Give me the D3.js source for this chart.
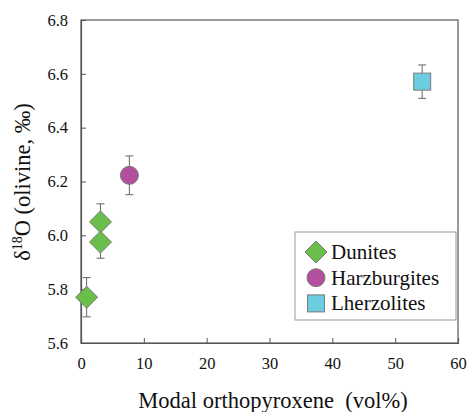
<!DOCTYPE html>
<html>
<head>
<meta charset="utf-8">
<script src="https://cdn.jsdelivr.net/npm/d3@7"></script>
<style>
  html, body { margin: 0; padding: 0; background: #fff; }
  svg { display: block; }
  svg text { fill: #111; }
</style>
</head>
<body>
<svg id="chart" width="468" height="412"></svg>
<script>
// Rock types and their marker styles
const groups = ["Dunites", "Harzburgites", "Lherzolites"];
const groupFill = ["#6abf4b", "#b44f9f", "#6dcde0"];
const groupShape = ["diamond", "circle", "square"];

// Sample measurements: modal opx (vol%), δ18O olivine (‰), 1σ error
const sampleGroup = ["Dunites", "Dunites", "Dunites", "Harzburgites", "Lherzolites"];
const opx = [0.9, 3.1, 3.1, 7.7, 54.3];
const d18O = [5.77, 6.05, 5.975, 6.223, 6.571];
const err = [0.073, 0.067, 0.06, 0.072, 0.062];

const xTicks = [0, 10, 20, 30, 40, 50, 60];
const yTicks = [5.6, 5.8, 6.0, 6.2, 6.4, 6.6, 6.8];

const serif = "Liberation Serif";
const svg = d3.select("#chart");
const plotL = 81, plotR = 458, plotT = 20, plotB = 343;

const x = d3.scaleLinear().domain([0, 60]).range([plotL, plotR]);
const y = d3.scaleLinear().domain([5.6, 6.8]).range([plotB, plotT]);

// Frame
svg.append("rect")
  .attr("x", plotL).attr("y", plotT)
  .attr("width", plotR - plotL).attr("height", plotB - plotT)
  .attr("fill", "none").attr("stroke", "#555").attr("stroke-width", 1.2);

// Axes with inward ticks
const xAxis = svg.append("g").attr("transform", `translate(0,${plotB})`)
  .call(d3.axisBottom(x).tickValues(xTicks).tickSize(-5).tickPadding(14).tickFormat(d3.format("d")));
const yAxis = svg.append("g").attr("transform", `translate(${plotL},0)`)
  .call(d3.axisLeft(y).tickValues(yTicks).tickSize(-5).tickPadding(13).tickFormat(d3.format(".1f")));
[xAxis, yAxis].forEach(g => {
  g.attr("font-family", null).attr("font-size", null);
  g.select(".domain").attr("stroke", "#555").attr("stroke-width", 1.2);
  g.selectAll(".tick line").attr("stroke", "#555");
  g.selectAll(".tick text").attr("fill", "#111")
    .style("font-family", serif).style("font-size", "16.5px");
});

// Axis titles
svg.append("text")
  .attr("x", 273).attr("y", 408)
  .attr("text-anchor", "middle")
  .style("font-family", serif).style("font-size", "22.5px")
  .attr("xml:space", "preserve")
  .text("Modal orthopyroxene  (vol%)");

const yt = svg.append("text")
  .attr("transform", "translate(30,182) rotate(-90)")
  .attr("text-anchor", "middle")
  .style("font-family", serif).style("font-size", "22.5px");
yt.append("tspan").text("δ");
yt.append("tspan").attr("dy", -8).style("font-size", "14px").text("18");
yt.append("tspan").attr("dy", 8).text("O (olivine, ‰)");

// Marker drawing helper
function marker(g, shape, fill) {
  if (shape === "diamond") {
    g.append("path").attr("d", "M0,-11L11,0L0,11L-11,0Z");
  } else if (shape === "circle") {
    g.append("circle").attr("r", 9);
  } else {
    g.append("rect").attr("x", -8.5).attr("y", -8.5).attr("width", 17).attr("height", 17);
  }
  g.selectAll("path,circle,rect").attr("fill", fill).attr("stroke", "#7a7a7a").attr("stroke-width", 1);
}

// Error bars
const eb = svg.append("g").attr("stroke", "#666").attr("stroke-width", 1);
opx.forEach((v, i) => {
  const cx = x(v);
  eb.append("line").attr("x1", cx).attr("x2", cx).attr("y1", y(d18O[i] + err[i])).attr("y2", y(d18O[i] - err[i]));
  [d18O[i] + err[i], d18O[i] - err[i]].forEach(e => {
    eb.append("line").attr("x1", cx - 4).attr("x2", cx + 4).attr("y1", y(e)).attr("y2", y(e));
  });
});

// Points
opx.forEach((v, i) => {
  const gi = groups.indexOf(sampleGroup[i]);
  const g = svg.append("g").attr("transform", `translate(${x(v)},${y(d18O[i])})`);
  marker(g, groupShape[gi], groupFill[gi]);
});

// Legend
const lg = svg.append("g");
lg.append("rect").attr("x", 295).attr("y", 232).attr("width", 161).attr("height", 88)
  .attr("fill", "#fff").attr("stroke", "#999").attr("stroke-width", 1);
groups.forEach((name, i) => {
  const cy = 252 + i * 25.7;
  const g = lg.append("g").attr("transform", `translate(316,${cy})`);
  marker(g, groupShape[i], groupFill[i]);
  lg.append("text").attr("x", 331).attr("y", cy + 7)
    .style("font-family", serif).style("font-size", "21px").text(name);
});
</script>
</body>
</html>
